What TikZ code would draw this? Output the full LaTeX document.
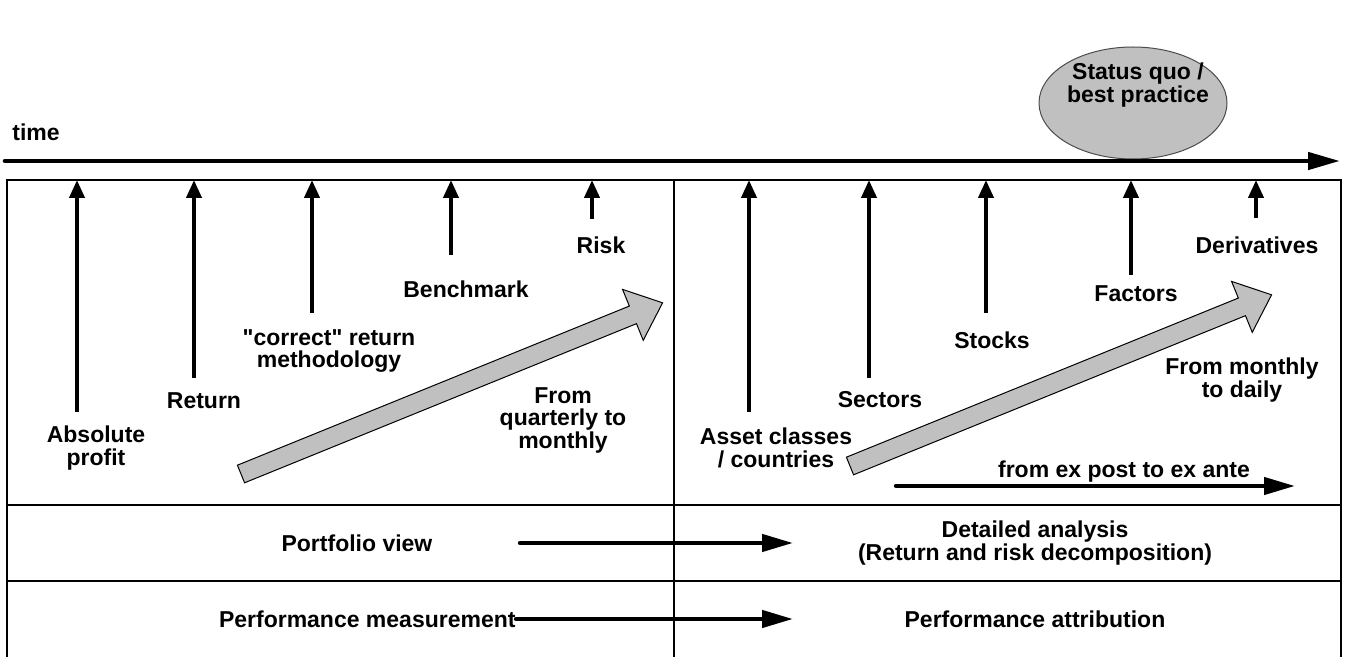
\documentclass[tikz,border=0pt]{standalone}
\usepackage{fontspec}
\setmainfont{Liberation Sans}[Ligatures=TeXOff]
\usetikzlibrary{arrows.meta,positioning}
\definecolor{blockgray}{HTML}{C0C0C0}
\begin{document}
\begin{tikzpicture}[x=0.5pt, y=-0.5pt,
    font=\bfseries\fontsize{11.5pt}{11.25pt}\selectfont,
    lbl/.style={align=center, inner sep=0pt},
    frame/.style={line width=0.7pt},
    bar/.style={line width=2pt, -{Triangle[length=9pt,width=7.5pt]}},
    fat/.style={line width=2.2pt, line cap=round, -{Triangle[length=15.5pt,width=8.5pt]}},
    block/.style={fill=blockgray, draw=black, line width=0.5pt}]
    \useasboundingbox (0,0) rectangle (1346,657);

    % status quo ellipse above the time axis
    \draw[fill=blockgray, draw=black!70, line width=0.5pt] (1133,103) ellipse [x radius=94, y radius=56];
    \node[lbl] (status) at (1138,85) {Status quo /\\best practice};

    % time axis
    \node[lbl, anchor=west] (time) at (12,132) {time};
    \coordinate (t0) at (5,161);
    \coordinate (t1) at (1340,161);
    \draw[line width=2.3pt, line cap=round, -{Triangle[length=16pt,width=8.5pt]}] (t0) -- (t1);

    % table frame
    \coordinate (boxtl) at (7,180);
    \coordinate (boxbr) at (1341,658);
    \draw[frame] (boxtl) rectangle (boxbr);
    \draw[frame] (7,505) -- (1341,505);
    \draw[frame] (7,581) -- (1341,581);
    \draw[frame] (674,180) -- (674,658);

    % arrows up to the time axis
    \foreach \n/\x/\y in {profit/77/412, ret/194/378, meth/312/313, bench/451/255, risk/592/219,
                          asset/749/412, sect/869/378, stock/986/313, fact/1131/275, deriv/1256/218} {
        \coordinate (\n0) at (\x,\y);
        \draw[bar] (\n0) -- (\n0 |- boxtl);
    }

    % what was measured
    \node[lbl] (profit) at (96,448) {Absolute\\profit};
    \node[lbl] (ret) at (204,401) {Return};
    \node[lbl] (meth) at (329,351) {"correct" return\\methodology};
    \node[lbl] (bench) at (466,289) {Benchmark};
    \node[lbl] (risk) at (601,245) {Risk};
    \node[lbl] (asset) at (776,448) {Asset classes\\/ countries};
    \node[lbl] (sect) at (880,400) {Sectors};
    \node[lbl] (stock) at (992,340) {Stocks};
    \node[lbl] (fact) at (1136,294) {Factors};
    \node[lbl] (deriv) at (1257,245) {Derivatives};

    % frequency block arrows
    \filldraw[block, shift={(241,474)}, rotate=22.1]
        (0,-9.5) -- (423,-9.5) -- (423,-27.5) -- (455,0) -- (423,27.5) -- (423,9.5) -- (0,9.5) -- cycle;
    \filldraw[block, shift={(850,466)}, rotate=22.1]
        (0,-9.5) -- (423,-9.5) -- (423,-27.5) -- (455,0) -- (423,27.5) -- (423,9.5) -- (0,9.5) -- cycle;
    \node[lbl] (quart) at (563,420) {From\\quarterly to\\monthly};
    \node[lbl] (daily) at (1242,380) {From monthly\\to daily};

    % ex post -> ex ante
    \node[lbl] (expost) at (1124,472) {from ex post to ex ante};
    \coordinate (ep0) at (896,486);
    \coordinate (ep1) at (1295,486);
    \draw[fat] (ep0) -- (ep1);

    % lower rows
    \node[lbl] (pview) at (357,543) {Portfolio view};
    \node[lbl] (detail) at (1035,543) {Detailed analysis\\(Return and risk decomposition)};
    \coordinate (pv0) at (520,543);
    \coordinate (pv1) at (793,543);
    \draw[fat] (pv0) -- (pv1);

    \node[lbl, anchor=east] (pmeas) at (516,619) {Performance measurement};
    \node[lbl] (pattr) at (1035,619) {Performance attribution};
    \coordinate (pm1) at (793,619);
    \draw[fat] (pmeas.east) -- (pm1);
\end{tikzpicture}
\end{document}
